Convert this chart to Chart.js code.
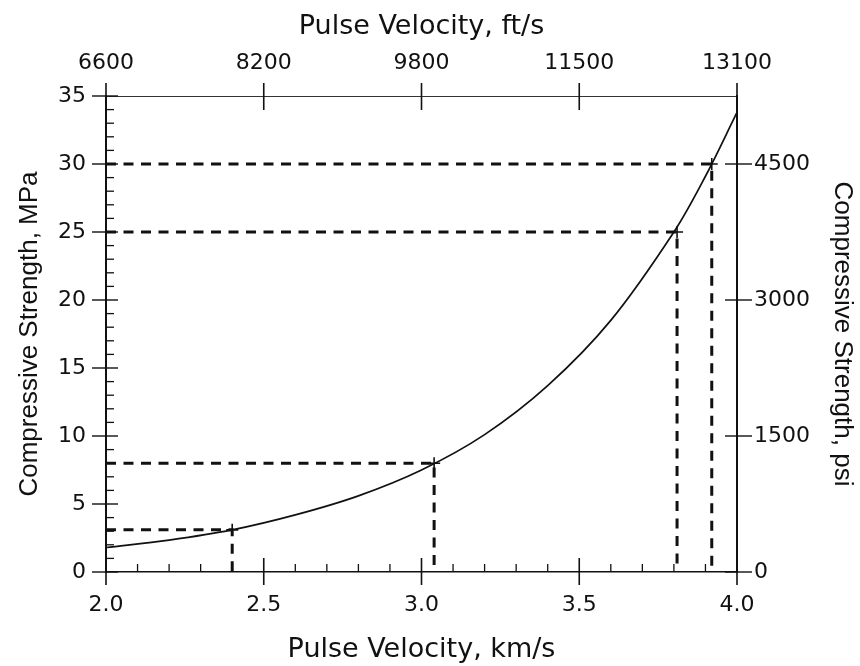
<!DOCTYPE html>
<html>
<head>
<meta charset="utf-8">
<title>Pulse velocity vs compressive strength</title>
<script src="https://cdn.jsdelivr.net/npm/chart.js@4.4.1/dist/chart.umd.min.js"></script>
<style>
  html, body { margin: 0; padding: 0; background: #fff; }
  #chart { display: block; }
</style>
</head>
<body>
<canvas id="chart" width="860" height="666"></canvas>
<script>
// ===== DATA =====
// curve (km/s -> MPa)
const velocityKm = [2.0, 2.2, 2.4, 2.6, 2.8, 3.0, 3.2, 3.4, 3.6, 3.8, 3.9, 4.0]
const strengthMPa = [1.8, 2.35, 3.1, 4.2, 5.6, 7.5, 10.1, 13.7, 18.5, 25.0, 29.1, 33.8]

// dashed read-off lines
const guideVelocity = [2.4, 3.04, 3.81, 3.92]
const guideStrength = [3.1, 8, 25, 30]

// axes
const topTickLabels = ['6600', '8200', '9800', '11500', '13100']
const psiTicks = [0, 1500, 3000, 4500]

const INK = '#111'
const tickFont = { family: "'DejaVu Sans'", size: 22, lineHeight: 1 }
const hTitleFont = { family: "'DejaVu Sans'", size: 27, lineHeight: 1 }
const vTitleFont = { family: "'Liberation Sans'", size: 26, lineHeight: 1 }

function isMultiple(v, step) {
  const q = v / step
  return Math.abs(q - Math.round(q)) < 1e-6
}

// ===== TICK MARKS (crossing the axis lines) =====
const tickMarks = {
  id: 'tickMarks',
  afterDraw(chart) {
    const { ctx, chartArea: a, scales } = chart
    ctx.save()
    ctx.strokeStyle = INK
    const seg = (x1, y1, x2, y2, w) => {
      ctx.lineWidth = w
      ctx.beginPath()
      ctx.moveTo(x1, y1)
      ctx.lineTo(x2, y2)
      ctx.stroke()
    }

    scales.x.ticks.forEach((t) => {
      const px = scales.x.getPixelForValue(t.value)
      if (isMultiple(t.value, 0.5)) seg(px, a.bottom - 14, px, a.bottom + 13, 1.6)
      else seg(px, a.bottom - 8, px, a.bottom, 1.3)
    })

    scales.x2.ticks.forEach((t) => {
      const px = scales.x2.getPixelForValue(t.value)
      seg(px, a.top - 13, px, a.top + 14, 1.6)
    })

    scales.y.ticks.forEach((t) => {
      const py = scales.y.getPixelForValue(t.value)
      if (isMultiple(t.value, 5)) seg(a.left - 14, py, a.left + 12, py, 1.4)
      else seg(a.left, py, a.left + 8, py, 1.3)
    })

    scales.y2.ticks.forEach((t) => {
      const py = scales.y2.getPixelForValue(t.value)
      seg(a.right - 12, py, a.right + 15, py, 1.4)
    })
    ctx.restore()
  },
}

// ===== DATASETS =====
const curve = {
  data: velocityKm.map((v, i) => ({ x: v, y: strengthMPa[i] })),
  borderColor: INK,
  borderWidth: 1.7,
  pointRadius: 0,
  tension: 0.35,
  xAxisID: 'x',
  yAxisID: 'y',
}

const guides = guideVelocity.map((v, i) => ({
  data: [
    { x: velocityKm[0], y: guideStrength[i] },
    { x: v, y: guideStrength[i] },
    { x: v, y: 0 },
  ],
  borderColor: INK,
  borderWidth: 3,
  borderDash: [10, 7.5],
  tension: 0,
  pointStyle: 'cross',
  pointRadius: [0, 6, 0],
  pointBorderWidth: 1.6,
  pointBorderColor: INK,
  xAxisID: 'x',
  yAxisID: 'y',
}))

// ===== CHART =====
new Chart(document.getElementById('chart'), {
  type: 'line',
  data: { datasets: [...guides, curve] },
  plugins: [tickMarks],
  options: {
    responsive: false,
    animation: false,
    devicePixelRatio: 1,
    layout: { padding: 0 },
    plugins: {
      legend: { display: false },
      tooltip: { enabled: false },
    },
    scales: {
      x: {
        type: 'linear',
        position: 'bottom',
        min: 2,
        max: 4,
        grid: { display: false, drawTicks: false },
        border: { display: true, color: INK, width: 1.5 },
        ticks: {
          stepSize: 0.1,
          autoSkip: false,
          maxRotation: 0,
          padding: 22,
          color: INK,
          font: tickFont,
          callback: (v) => (isMultiple(v, 0.5) ? v.toFixed(1) : ''),
        },
        title: {
          display: true,
          text: 'Pulse Velocity, km/s',
          color: INK,
          font: hTitleFont,
          padding: { top: 0, bottom: 2.5 },
        },
        afterFit: (s) => { s.height = 94 },
      },
      x2: {
        type: 'linear',
        position: 'top',
        min: 2,
        max: 4,
        grid: { display: false, drawTicks: false },
        border: { display: true, color: '#333', width: 1 },
        ticks: {
          stepSize: 0.5,
          autoSkip: false,
          maxRotation: 0,
          padding: 21.5,
          color: INK,
          font: tickFont,
          callback: (v, i) => topTickLabels[i],
        },
        title: {
          display: true,
          text: 'Pulse Velocity, ft/s',
          color: INK,
          font: hTitleFont,
          padding: { top: 13.5, bottom: 0 },
        },
        afterFit: (s) => { s.height = 96 },
      },
      y: {
        type: 'linear',
        position: 'left',
        min: 0,
        max: 35,
        grid: { display: false, drawTicks: false },
        border: { display: true, color: INK, width: 2 },
        ticks: {
          stepSize: 1,
          autoSkip: false,
          padding: 20,
          color: INK,
          font: tickFont,
          callback: (v) => (isMultiple(v, 5) ? String(v) : ''),
        },
        title: {
          display: true,
          text: 'Compressive Strength, MPa',
          color: INK,
          font: vTitleFont,
          padding: { top: 16.5, bottom: 0 },
        },
        afterFit: (s) => { s.width = 106 },
      },
      y2: {
        type: 'linear',
        position: 'right',
        min: 0,
        max: 5250,
        grid: { display: false, drawTicks: false },
        border: { display: true, color: INK, width: 2 },
        afterBuildTicks: (s) => {
          s.ticks = psiTicks.map((v) => ({ value: v }))
        },
        ticks: {
          autoSkip: false,
          padding: 17,
          color: INK,
          font: tickFont,
          callback: (v) => String(v),
        },
        title: {
          display: true,
          text: 'Compressive Strength, psi',
          color: INK,
          font: vTitleFont,
          padding: { top: 4.5, bottom: 0 },
        },
        afterFit: (s) => { s.width = 123 },
      },
    },
  },
})
</script>
</body>
</html>
